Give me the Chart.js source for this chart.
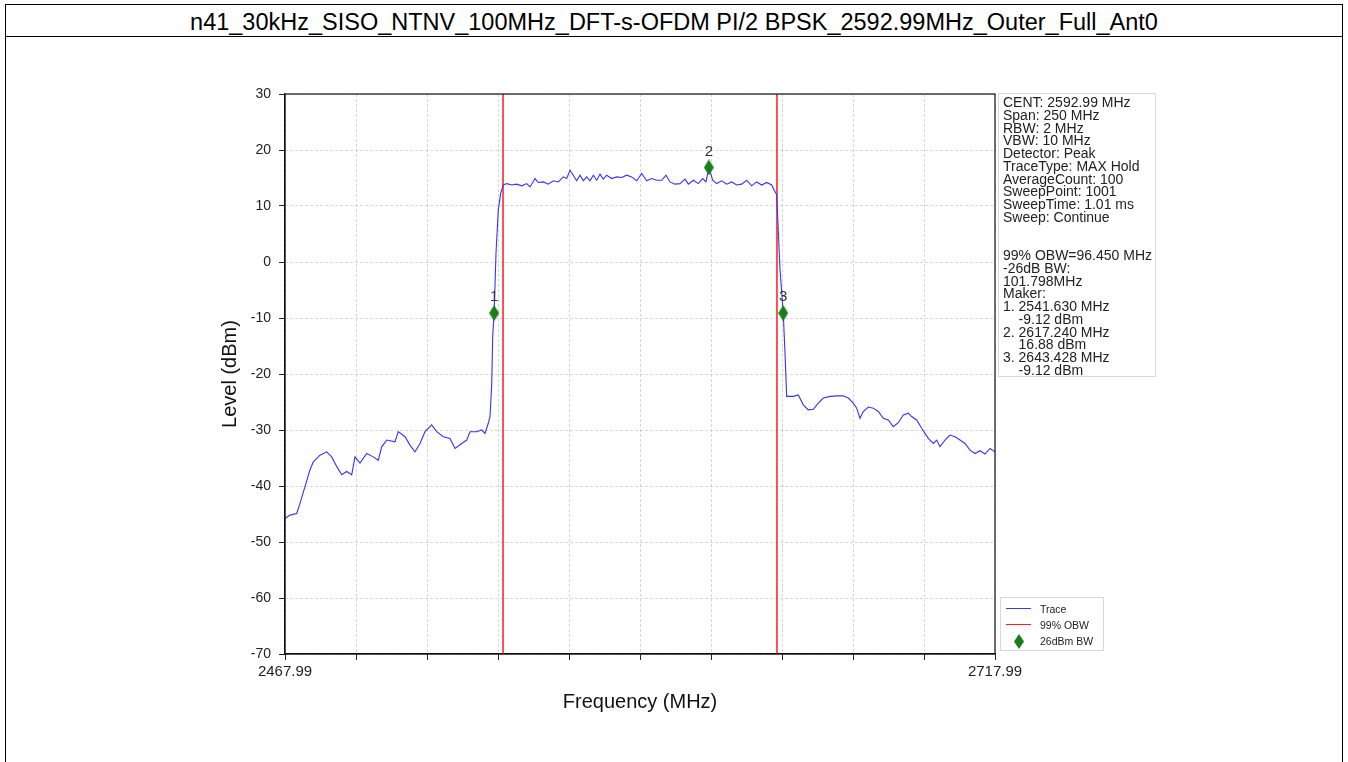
<!DOCTYPE html>
<html>
<head>
<meta charset="utf-8">
<script src="https://cdn.jsdelivr.net/npm/chart.js@4.4.1/dist/chart.umd.min.js"></script>
<style>
  html, body { margin: 0; padding: 0; background: #fff; }
  body { width: 1348px; height: 762px; position: relative; overflow: hidden; font-family: "Liberation Sans", Arial, sans-serif; }
  #frame { position: absolute; left: 5px; top: 4px; width: 1336px; height: 800px; border: 1.5px solid #000; }
  #titleRule { position: absolute; left: 5px; top: 36px; width: 1338px; height: 0; border-top: 1.5px solid #000; }
  #title { position: absolute; left: 5px; top: 8px; width: 1338px; text-align: center; font-size: 23.5px; line-height: 28px; color: #000; white-space: nowrap; }
  #chart { position: absolute; left: 0; top: 0; }
  #info { position: absolute; left: 998px; top: 93px; width: 158px; height: 284px; border: 1px solid #d8d8d8; box-sizing: border-box;
          padding: 2px 0 0 4px; font-size: 14px; line-height: 12.75px; color: #222; white-space: pre; }
  #legend { position: absolute; left: 1000px; top: 597px; width: 104px; height: 54px; border: 1px solid #d8d8d8; box-sizing: border-box; font-size: 10.5px; color: #222; }
  .lg { position: absolute; left: 0; height: 14px; width: 100%; }
  .lg span { position: absolute; left: 39px; top: 0; line-height: 14px; }
  .lg i { position: absolute; left: 5px; top: 6px; width: 25px; height: 0; border-top: 1.5px solid; }
  .lg b { position: absolute; left: 13px; top: 0px; width: 10px; height: 15px; background: #1a7f1a; clip-path: polygon(50% 0, 100% 50%, 50% 100%, 0 50%); }
</style>
</head>
<body>
<div id="frame"></div>
<div id="titleRule"></div>
<div id="title">n41_30kHz_SISO_NTNV_100MHz_DFT-s-OFDM PI/2 BPSK_2592.99MHz_Outer_Full_Ant0</div>
<canvas id="chart" width="1348" height="762"></canvas>
<div id="info"></div>
<div id="legend">
  <div class="lg" style="top:4px"><i style="border-color:#3a3aff"></i><span>Trace</span></div>
  <div class="lg" style="top:20px"><i style="border-color:#ff2020"></i><span>99% OBW</span></div>
  <div class="lg" style="top:36px"><b></b><span>26dBm BW</span></div>
</div>
<script>
// Spectrum trace (MAX Hold), frequency in MHz and level in dBm
const freqMHz = [
  2467.99, 2469.75, 2472.11, 2473.27, 2475.03, 2476.79, 2477.95, 2480.31, 2482.67, 2484.43,
  2486.19, 2487.95, 2489.72, 2491.48, 2492.64, 2494.40, 2496.76, 2499.08, 2500.84, 2502.04,
  2503.80, 2506.72, 2507.88, 2510.24, 2512.00, 2513.76, 2515.53, 2517.29, 2519.64, 2521.41,
  2523.73, 2526.09, 2527.85, 2530.21, 2531.97, 2533.13, 2535.49, 2537.25, 2538.41, 2539.57,
  2540.17, 2540.77, 2541.12, 2541.63, 2542.29, 2543.10, 2543.94, 2544.86, 2546.05, 2547.81,
  2549.57, 2551.34, 2553.10, 2554.26, 2556.02, 2557.18, 2558.94, 2560.70, 2562.46, 2564.22,
  2565.98, 2567.18, 2568.34, 2569.50, 2570.70, 2571.86, 2573.03, 2574.22, 2575.38, 2576.55,
  2577.74, 2578.91, 2580.07, 2581.26, 2583.03, 2584.79, 2586.55, 2588.31, 2590.07, 2591.83,
  2593.59, 2595.35, 2597.11, 2598.87, 2600.63, 2602.14, 2603.55, 2605.31, 2607.07, 2608.84,
  2610.00, 2611.76, 2613.52, 2615.07, 2616.23, 2617.24, 2618.59, 2620.00, 2621.76, 2623.52,
  2625.28, 2627.04, 2628.80, 2630.56, 2632.32, 2634.08, 2635.84, 2637.60, 2639.36, 2640.17,
  2641.12, 2642.29, 2643.428, 2644.05, 2644.64, 2645.21, 2646.97, 2648.73, 2650.49, 2652.25,
  2654.01, 2655.77, 2657.53, 2659.89, 2662.25, 2664.57, 2666.34, 2668.10, 2669.29, 2670.45,
  2671.62, 2673.38, 2675.14, 2676.90, 2678.66, 2680.42, 2682.18, 2683.94, 2685.70, 2687.46,
  2688.66, 2690.42, 2692.18, 2693.34, 2694.50, 2696.26, 2697.46, 2698.62, 2700.38, 2702.14,
  2703.91, 2705.67, 2707.43, 2709.19, 2710.95, 2712.71, 2714.47, 2716.23, 2717.99
];
const levelDbm = [
  -45.8, -45.2, -44.9, -43.1, -40.1, -37.1, -35.7, -34.5, -33.9, -34.8,
  -36.5, -38.0, -37.4, -38.0, -34.8, -35.9, -34.2, -34.8, -35.4, -33.0,
  -31.8, -32.1, -30.3, -31.2, -32.7, -33.9, -32.4, -30.3, -29.1, -30.3,
  -31.2, -31.5, -33.3, -32.4, -31.8, -30.3, -30.3, -30.0, -30.6, -28.8,
  -27.6, -22.0, -13.3, -9.12, 1.6, 9.3, 12.3, 13.75, 14.0, 13.75,
  13.9, 13.6, 14.0, 13.4, 14.9, 14.2, 14.3, 13.9, 14.5, 14.3,
  15.2, 14.9, 16.4, 15.5, 14.5, 15.5, 14.5, 15.2, 14.5, 15.5,
  14.6, 15.7, 14.8, 15.5, 14.9, 15.2, 15.1, 15.5, 15.2, 14.5,
  15.8, 14.5, 14.9, 14.6, 14.6, 15.5, 14.3, 13.9, 14.0, 14.8,
  13.9, 14.6, 14.0, 14.9, 14.3, 16.88, 14.6, 14.0, 14.5, 13.9,
  14.3, 13.75, 13.9, 14.6, 13.6, 14.3, 13.75, 14.2, 13.75, 12.9,
  12.0, -1.4, -9.12, -16.3, -24.0, -24.0, -24.0, -23.75, -25.5, -26.4,
  -26.3, -25.2, -24.3, -24.0, -23.9, -23.9, -24.3, -25.2, -26.1, -27.9,
  -26.7, -25.9, -26.1, -26.7, -27.9, -28.2, -29.4, -28.7, -27.3, -27.0,
  -27.6, -28.2, -29.7, -30.6, -31.5, -32.4, -31.8, -33.0, -31.8, -30.9,
  -31.2, -31.8, -32.4, -33.6, -34.2, -33.7, -34.3, -33.3, -33.9
];

// 99% occupied bandwidth edges (MHz)
const obwEdgesMHz = [2544.765, 2641.215];

// -26 dB bandwidth markers
const markerNames = ['1', '2', '3'];
const markerFreqMHz = [2541.630, 2617.240, 2643.428];
const markerLevelDbm = [-9.12, 16.88, -9.12];

// Axis ticks
const xTickValues = [2467.99, 2492.99, 2517.99, 2542.99, 2567.99, 2592.99, 2617.99, 2642.99, 2667.99, 2692.99, 2717.99];
const xTickLabels = ['2467.99', '', '', '', '', '', '', '', '', '', '2717.99'];
const yMin = -70, yMax = 30, yStep = 10;

// Analyzer settings and measurement summary
const infoLines = [
  'CENT: 2592.99 MHz',
  'Span: 250 MHz',
  'RBW: 2 MHz',
  'VBW: 10 MHz',
  'Detector: Peak',
  'TraceType: MAX Hold',
  'AverageCount: 100',
  'SweepPoint: 1001',
  'SweepTime: 1.01 ms',
  'Sweep: Continue',
  '',
  '',
  '99% OBW=96.450 MHz',
  '-26dB BW:',
  '101.798MHz',
  'Maker:',
  '1. 2541.630 MHz',
  '    -9.12 dBm',
  '2. 2617.240 MHz',
  '    16.88 dBm',
  '3. 2643.428 MHz',
  '    -9.12 dBm'
];
document.getElementById('info').textContent = infoLines.join('\n');

const FONT = '"Liberation Sans", Arial, sans-serif';

// Narrow diamond used for the bandwidth markers
function diamondSymbol(w, h, color) {
  const c = document.createElement('canvas');
  c.width = w; c.height = h;
  const g = c.getContext('2d');
  g.fillStyle = color;
  g.beginPath();
  g.moveTo(w / 2, 0); g.lineTo(w, h / 2); g.lineTo(w / 2, h); g.lineTo(0, h / 2);
  g.closePath(); g.fill();
  return c;
}
const diamond = diamondSymbol(10, 16, '#1a7f1a');

const traceData = freqMHz.map((f, i) => ({ x: f, y: levelDbm[i] }));
const markerData = markerFreqMHz.map((f, i) => ({ x: f, y: markerLevelDbm[i] }));
const obwSets = obwEdgesMHz.map(f => ({
  label: '99% OBW',
  data: [{ x: f, y: yMin }, { x: f, y: yMax }],
  borderColor: '#ff2a2a', borderWidth: 1.6, pointRadius: 0, showLine: true, order: 3
}));

// Closed frame around the plot and marker numbers
const framePlugin = {
  id: 'frameAndLabels',
  afterDatasetsDraw(chart) {
    const { ctx, chartArea: a } = chart;
    ctx.save();
    ctx.strokeStyle = '#111';
    ctx.lineWidth = 1.2;
    ctx.strokeRect(a.left, a.top, a.right - a.left, a.bottom - a.top);
    const meta = chart.getDatasetMeta(0);
    ctx.fillStyle = '#333';
    ctx.font = '15px ' + FONT;
    ctx.textAlign = 'center';
    ctx.textBaseline = 'middle';
    meta.data.forEach((pt, i) => ctx.fillText(markerNames[i], pt.x, pt.y - 16));
    ctx.restore();
  }
};

const gridColor = 'rgba(140,140,140,0.35)';

new Chart(document.getElementById('chart'), {
  type: 'scatter',
  data: {
    datasets: [
      { label: '26dBm BW', data: markerData, pointStyle: diamond, pointRadius: 8, order: 1 },
      { label: 'Trace', data: traceData, showLine: true, borderColor: '#3434ff', borderWidth: 1.1, pointRadius: 0, tension: 0, order: 2 },
      ...obwSets
    ]
  },
  options: {
    responsive: false,
    animation: false,
    events: [],
    layout: { padding: { left: 214, right: 353, top: 94, bottom: 44 } },
    plugins: { legend: { display: false }, tooltip: { enabled: false }, title: { display: false } },
    scales: {
      x: {
        type: 'linear', min: xTickValues[0], max: xTickValues[xTickValues.length - 1],
        afterBuildTicks(scale) { scale.ticks = xTickValues.map(v => ({ value: v })); },
        afterFit(scale) { scale.height = 64; },
        ticks: {
          autoSkip: false, maxRotation: 0, padding: 3,
          color: '#222', font: { family: FONT, size: 15 },
          callback: (v, i) => xTickLabels[i]
        },
        grid: { color: gridColor, lineWidth: 1, drawTicks: true, tickLength: 6, tickColor: '#222', tickBorderDash: [] },
        border: { display: true, color: '#111', width: 1.2, dash: [3, 2] },
        title: { display: true, text: 'Frequency (MHz)', color: '#111', font: { family: FONT, size: 20 } }
      },
      y: {
        type: 'linear', min: yMin, max: yMax,
        afterFit(scale) { scale.width = 71; },
        ticks: { stepSize: yStep, padding: 8, color: '#222', font: { family: FONT, size: 14 } },
        grid: { color: gridColor, lineWidth: 1, drawTicks: true, tickLength: 6, tickColor: '#222', tickBorderDash: [] },
        border: { display: true, color: '#111', width: 1.2, dash: [3, 2] },
        title: { display: true, text: 'Level (dBm)', color: '#111', font: { family: FONT, size: 20 } }
      }
    }
  },
  plugins: [framePlugin]
});
</script>
</body>
</html>
